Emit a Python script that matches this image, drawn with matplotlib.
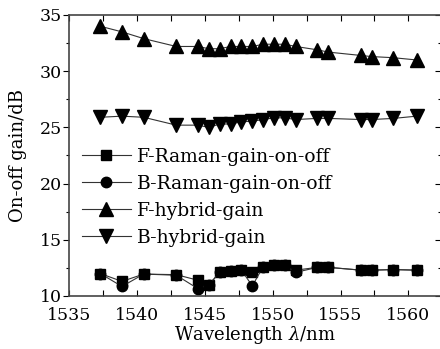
import matplotlib
matplotlib.use("Agg")
import matplotlib.pyplot as plt
from matplotlib.ticker import MultipleLocator
from matplotlib.transforms import ScaledTranslation

plt.rcParams['font.family'] = ['DejaVu Serif']
plt.rcParams['mathtext.fontset'] = 'dejavuserif'

# Wavelength grid (nm)
wavelength = [1537.3, 1538.9, 1540.5, 1542.9, 1544.5, 1545.3, 1546.1, 1546.9,
              1547.7, 1548.5, 1549.3, 1550.1, 1550.9, 1551.7, 1553.3, 1554.1,
              1556.5, 1557.3, 1558.9, 1560.6]

# On-off gain (dB)
f_raman = [12.0, 11.3, 11.95, 11.9, 11.4, 11.0, 12.1, 12.25, 12.3, 12.1,
           12.6, 12.75, 12.75, 12.3, 12.55, 12.55, 12.3, 12.3, 12.35, 12.3]
b_raman = [12.0, 10.85, 11.95, 11.85, 10.65, 11.0, 12.1, 12.25, 12.3, 10.9,
           12.6, 12.75, 12.75, 12.1, 12.55, 12.55, 12.3, 12.3, 12.35, 12.3]
f_hybrid = [34.0, 33.5, 32.9, 32.2, 32.2, 32.0, 32.0, 32.2, 32.2, 32.2,
            32.4, 32.4, 32.4, 32.2, 31.9, 31.7, 31.4, 31.3, 31.2, 31.0]
b_hybrid = [25.9, 26.0, 25.9, 25.2, 25.2, 25.0, 25.3, 25.3, 25.5, 25.55,
            25.7, 25.85, 25.85, 25.7, 25.8, 25.8, 25.7, 25.7, 25.8, 26.0]

labels = ['F-Raman-gain-on-off', 'B-Raman-gain-on-off', 'F-hybrid-gain', 'B-hybrid-gain']

fig = plt.figure(figsize=(4.4, 3.49), dpi=100)
ax = fig.add_axes([69 / 440, 1 - 296 / 349, 372 / 440, 281 / 349])

line_kw = dict(color='#333333', lw=0.8, markerfacecolor='black', markeredgecolor='black')
ax.plot(wavelength, f_raman, marker='s', ms=7, label=labels[0], **line_kw)
ax.plot(wavelength, b_raman, marker='o', ms=7.5, label=labels[1], **line_kw)
ax.plot(wavelength, f_hybrid, marker='^', ms=10, label=labels[2], **line_kw)
ax.plot(wavelength, b_hybrid, marker='v', ms=10, label=labels[3], **line_kw)

ax.set_xlim(1535, 1562.4)
ax.set_ylim(10, 35)
ax.xaxis.set_major_locator(MultipleLocator(5))
ax.xaxis.set_minor_locator(MultipleLocator(2.5))
ax.yaxis.set_major_locator(MultipleLocator(5))
ax.yaxis.set_minor_locator(MultipleLocator(2.5))

ax.tick_params(axis='x', which='both', direction='in', top=True, length=4, width=0.8, labelsize=12.5, pad=8)
ax.tick_params(axis='y', which='major', direction='out', length=4, width=0.8, labelsize=12.5, pad=1)
ax.tick_params(axis='y', which='minor', direction='out', length=2, width=0.8)
ax.spines['right'].set_visible(False)
for s in ['left', 'top', 'bottom']:
    ax.spines[s].set_color('#444444')
    ax.spines[s].set_linewidth(1.2)

# first x label sits a little to the right of its tick
fig.canvas.draw()
first = ax.get_xticklabels()[0]
first.set_transform(first.get_transform() + ScaledTranslation(9 / 100, 0, fig.dpi_scale_trans))

# Ticks on the right side, pointing inwards
sec = ax.secondary_yaxis('right')
sec.yaxis.set_major_locator(MultipleLocator(5))
sec.yaxis.set_minor_locator(MultipleLocator(2.5))
sec.tick_params(which='major', direction='in', length=4, width=0.8, labelright=False)
sec.tick_params(which='minor', direction='in', length=2, width=0.8)
sec.spines['right'].set_visible(False)

ax.set_xlabel(r'Wavelength $\lambda$/nm', fontsize=13, labelpad=0)
ax.set_ylabel('On-off gain/dB', fontsize=13, labelpad=9)

ax.legend(loc='upper left', bbox_to_anchor=(0.015, 0.555), frameon=False, fontsize=13.5,
          handlelength=2.6, handletextpad=0.35, labelspacing=0.48, borderaxespad=0)

fig.savefig('out.png', dpi=100)
